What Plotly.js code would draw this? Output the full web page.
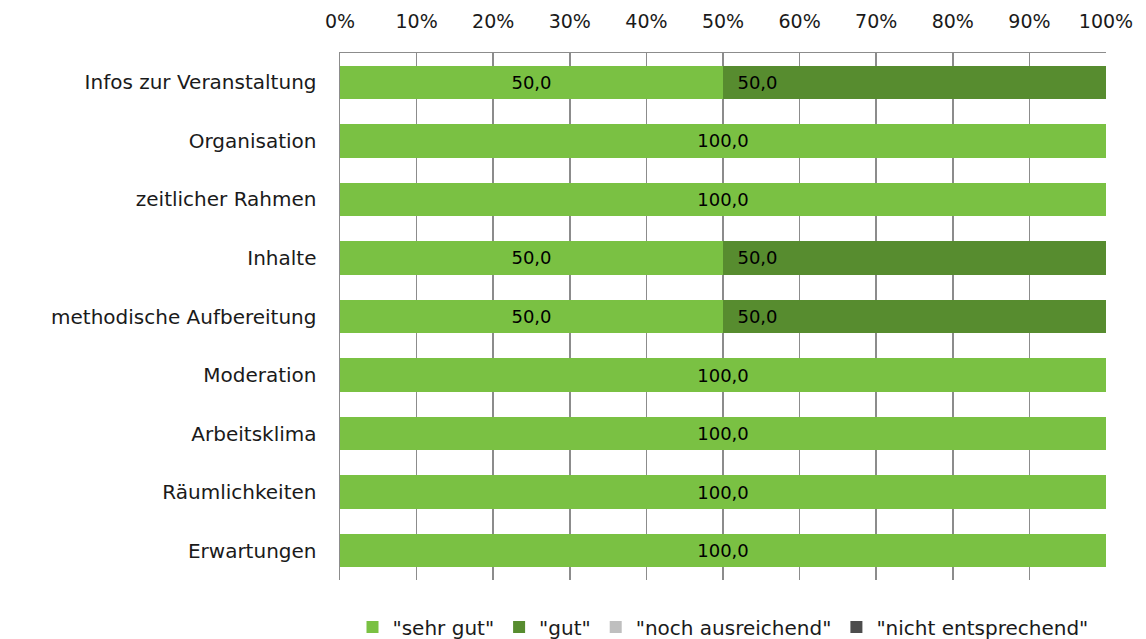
<!DOCTYPE html>
<html>
<head>
<meta charset="utf-8">
<script src="https://cdn.plot.ly/plotly-3.0.1.min.js"></script>
<style>
  html, body { margin: 0; padding: 0; background: #fff; }
  #chart { width: 1146px; height: 639px; }
</style>
</head>
<body>
<div id="chart"></div>
<script>
// Bewertungskategorien (von oben nach unten)
const categories = [
  "Infos zur Veranstaltung",
  "Organisation",
  "zeitlicher Rahmen",
  "Inhalte",
  "methodische Aufbereitung",
  "Moderation",
  "Arbeitsklima",
  "Räumlichkeiten",
  "Erwartungen"
];

// Anteile in Prozent je Antwortstufe
const sehrGut           = [50, 100, 100, 50, 50, 100, 100, 100, 100];
const gut               = [50, 0, 0, 50, 50, 0, 0, 0, 0];
const nochAusreichend   = [0, 0, 0, 0, 0, 0, 0, 0, 0];
const nichtEntsprechend = [0, 0, 0, 0, 0, 0, 0, 0, 0];

const seriesNames  = ['"sehr gut"', '"gut"', '"noch ausreichend"', '"nicht entsprechend"'];
const seriesValues = [sehrGut, gut, nochAusreichend, nichtEntsprechend];
const seriesColors = ['#7AC143', '#578C2F', '#BFBFBF', '#4D4D4D'];
// Beschriftung der "gut"-Segmente sitzt am linken Rand des Segments
const labelAnchor  = ['middle', 'start', 'middle', 'middle'];

const tickVals   = [0, 10, 20, 30, 40, 50, 60, 70, 80, 90, 100];
const tickLabels = ["0%", "10%", "20%", "30%", "40%", "50%", "60%", "70%", "80%", "90%", "100%"];

const FONT = '"DejaVu Sans", sans-serif';
const INK = '#1a1a1a';

const fmt = v => v.toFixed(1).replace('.', ',');

const traces = seriesNames.map((name, i) => ({
  type: 'bar',
  orientation: 'h',
  name: name,
  y: categories,
  x: seriesValues[i],
  marker: { color: seriesColors[i], line: { width: 0 } },
  text: seriesValues[i].map(v => v > 0
    ? (labelAnchor[i] === 'start' ? '\u2007' + fmt(v) : fmt(v))
    : ''),
  textposition: 'inside',
  insidetextanchor: labelAnchor[i],
  textfont: { family: FONT, size: 18, color: '#000' },
  constraintext: 'none',
  hoverinfo: 'skip'
}));

const layout = {
  width: 1146,
  height: 639,
  paper_bgcolor: '#fff',
  plot_bgcolor: '#fff',
  barmode: 'stack',
  bargap: 0.43,
  margin: { l: 340, r: 40, t: 53, b: 59, autoexpand: false },
  font: { family: FONT, size: 20, color: INK },
  xaxis: {
    side: 'top',
    range: [0, 100],
    tickvals: tickVals,
    ticktext: tickLabels,
    ticks: '',
    ticklabelstandoff: 16,
    showgrid: true,
    gridcolor: '#8c8c8c',
    gridwidth: 1.5,
    showline: true,
    linecolor: '#8c8c8c',
    linewidth: 1.5,
    zeroline: false,
    fixedrange: true,
    tickfont: { family: FONT, size: 19, color: INK }
  },
  yaxis: {
    autorange: 'reversed',
    ticks: '',
    ticklabelstandoff: 18,
    showline: true,
    linecolor: '#8c8c8c',
    linewidth: 1.5,
    showgrid: false,
    zeroline: false,
    fixedrange: true,
    tickfont: { family: FONT, size: 20, color: INK }
  },
  showlegend: true,
  legend: {
    orientation: 'h',
    x: 0.50,
    xanchor: 'center',
    y: -0.089,
    yanchor: 'middle',
    font: { family: FONT, size: 20, color: INK },
    itemwidth: 30,
    traceorder: 'normal'
  }
};

Plotly.newPlot('chart', traces, layout, { staticPlot: true, displayModeBar: false });
</script>
</body>
</html>
